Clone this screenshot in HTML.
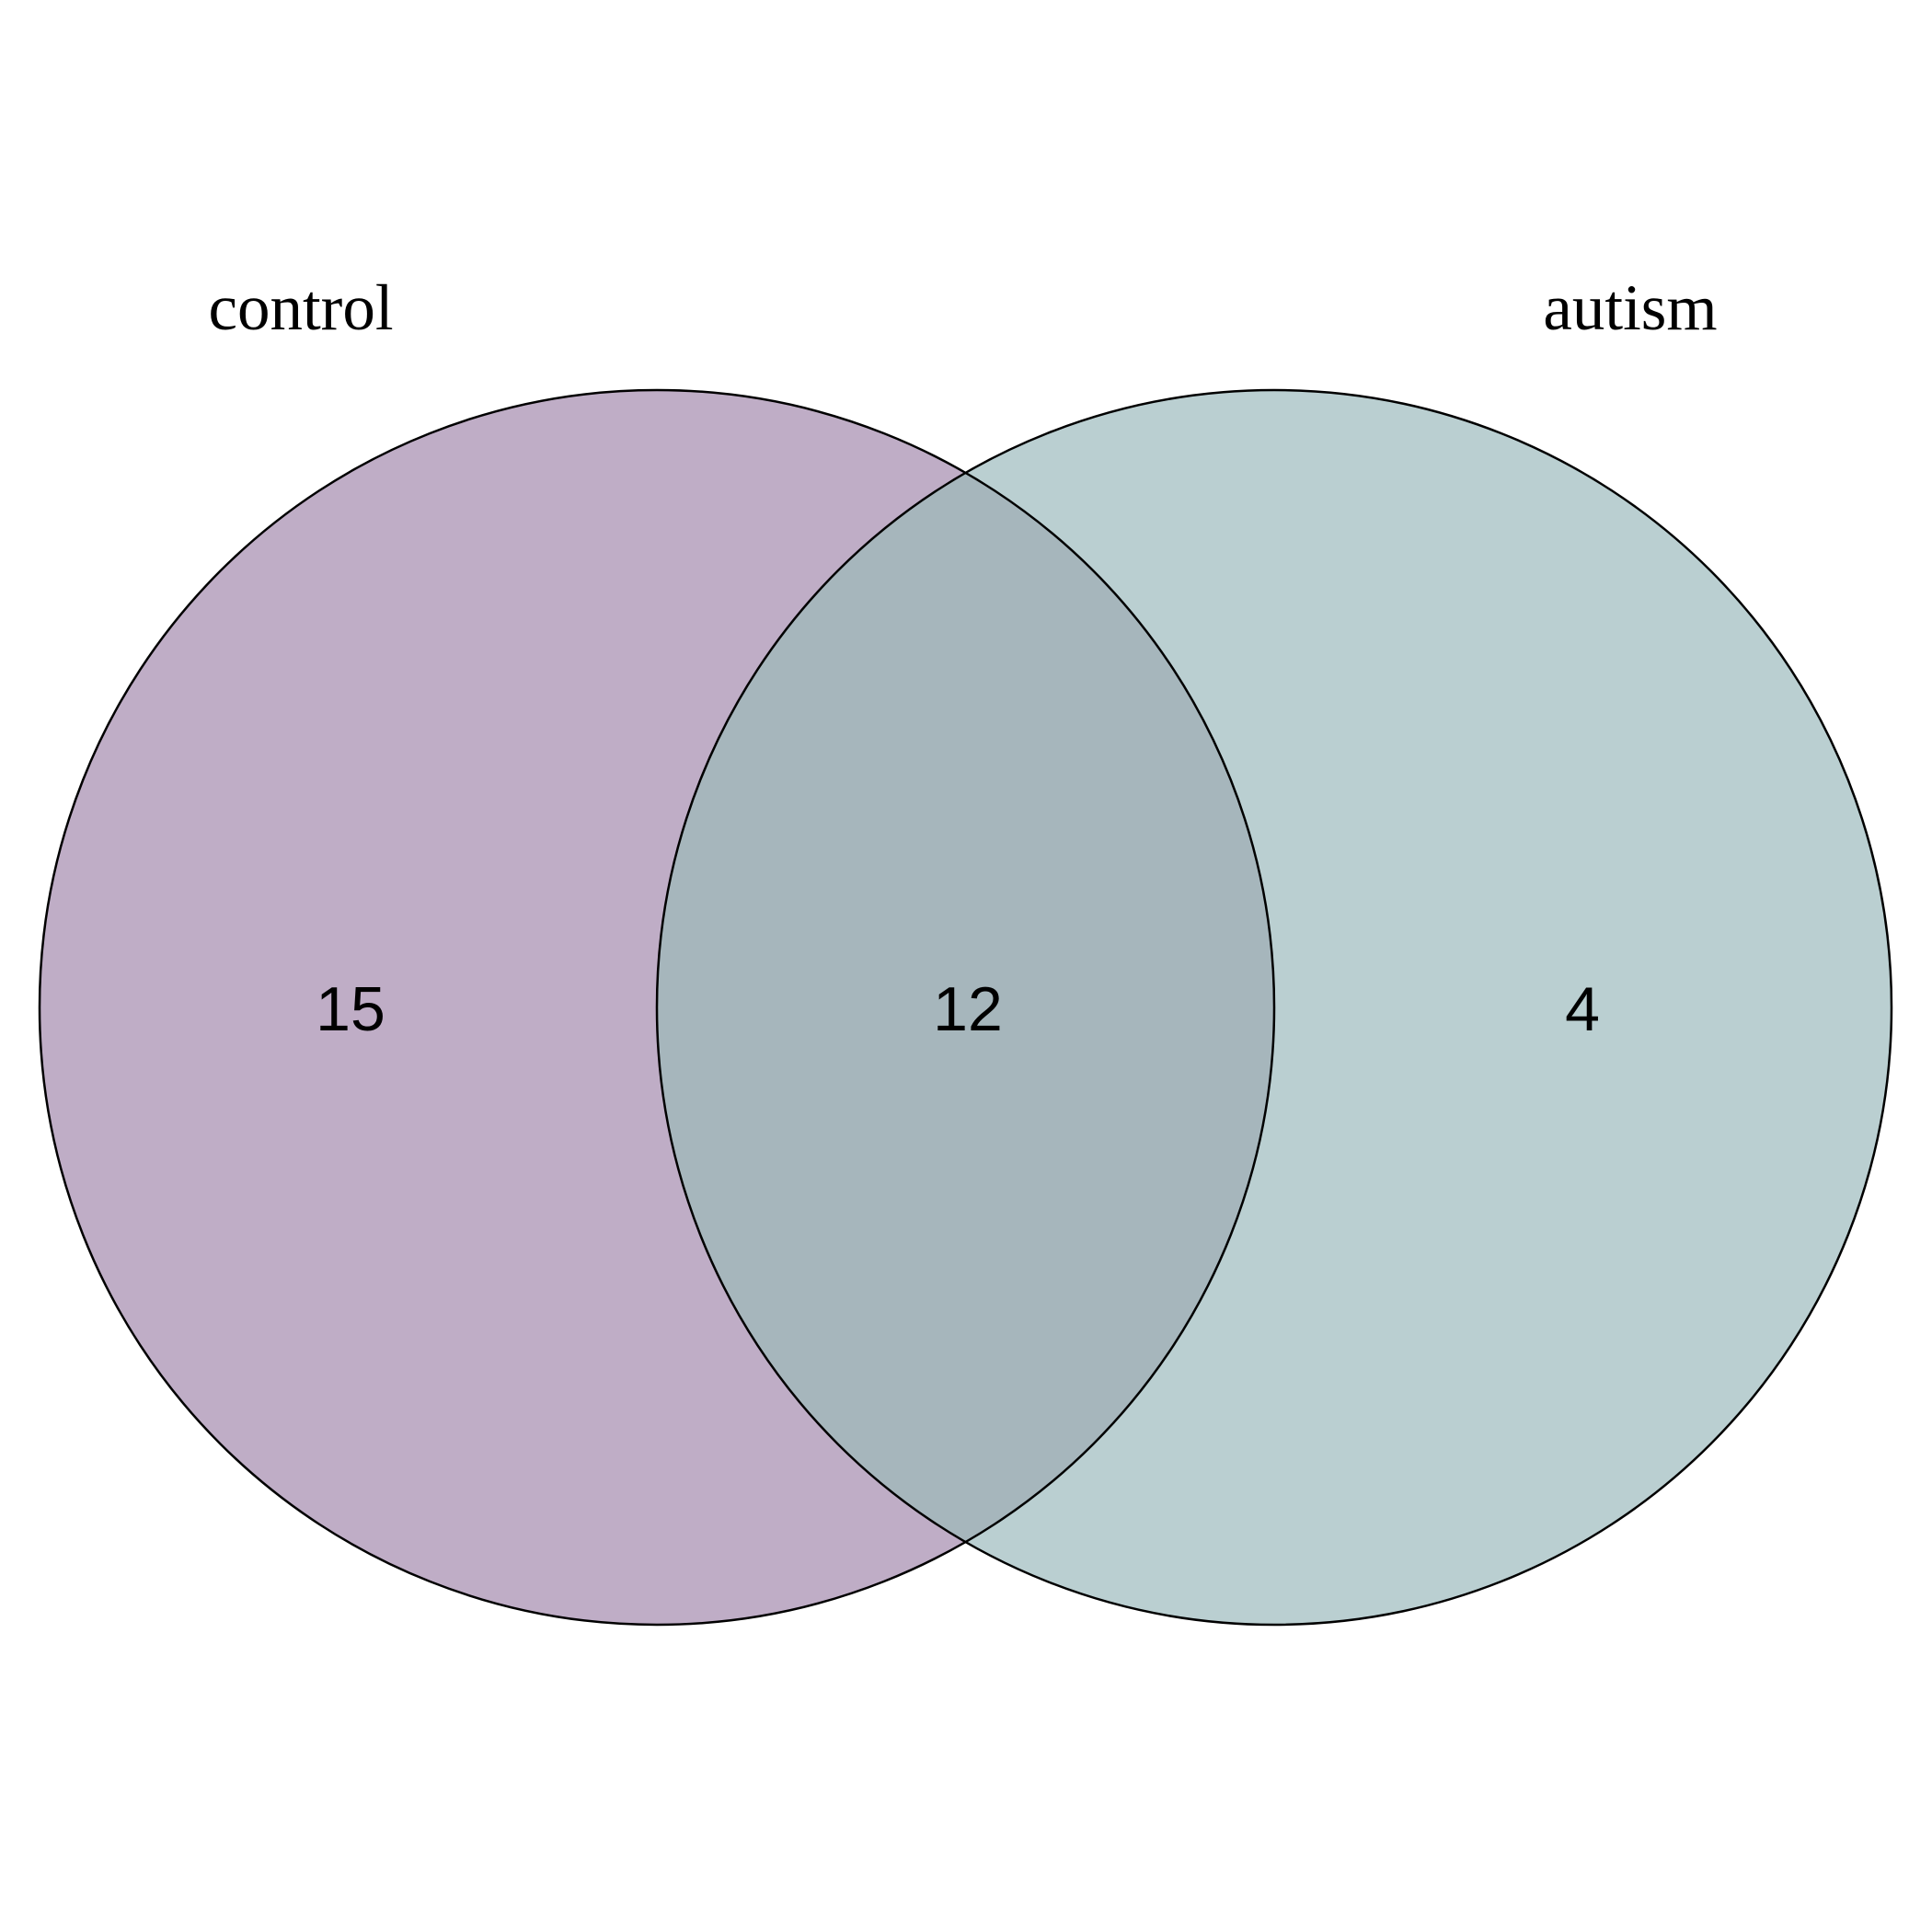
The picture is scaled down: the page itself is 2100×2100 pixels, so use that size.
<!DOCTYPE html>
<html><head><meta charset="utf-8"><style>html,body{margin:0;padding:0;background:#fff}svg{display:block}</style></head>
<body>
<svg id="chart" width="2100" height="2100" viewBox="0 0 2100 2100" xmlns="http://www.w3.org/2000/svg">
<defs><clipPath id="clipL"><circle id="clipCircle" cx="714" cy="1095" r="671"/></clipPath></defs>
<g id="marks"></g>
</svg>
<script>
const setNames = ["control", "autism"];
const onlyCounts = [15, 4];
const overlapCount = [12];
const NS = "http://www.w3.org/2000/svg";
const g = document.getElementById("marks");
const cy = 1095, r = 671;
const cx = [714, 1385];
const fills = ["#bfadc6", "#bacfd1"];
function mk(tag, attrs){const e=document.createElementNS(NS,tag);for(const k in attrs)e.setAttribute(k,attrs[k]);g.appendChild(e);return e;}
cx.forEach((x,i)=>{
  const c = mk("circle",{cx:x,cy:cy,r:r,fill:fills[i]});
  
  
});
const ov = mk("circle",{cx:cx[1],cy:cy,r:r,fill:"#a6b6bc","clip-path":"url(#clipL)"});


cx.forEach((x,i)=>{
  const c = mk("circle",{cx:x,cy:cy,r:r,fill:"none",stroke:"#000","stroke-width":2.5});
  
  
});
const labelX = [327, 1772];
setNames.forEach((n,i)=>{
  const t = mk("text",{x:labelX[i],y:358,"text-anchor":"middle","font-family":"Liberation Serif, serif","font-size":71,fill:"#000"});
  t.textContent = n;
  
  
});
const numX = [381, 1720];
onlyCounts.forEach((v,i)=>{
  const t = mk("text",{x:numX[i],y:1120,"text-anchor":"middle","font-family":"Liberation Sans, sans-serif","font-size":68,fill:"#000"});
  t.textContent = v;
  
  
});
const t = mk("text",{x:1052,y:1120,"text-anchor":"middle","font-family":"Liberation Sans, sans-serif","font-size":68,fill:"#000"});
t.textContent = overlapCount[0];


</script>
</body></html>
